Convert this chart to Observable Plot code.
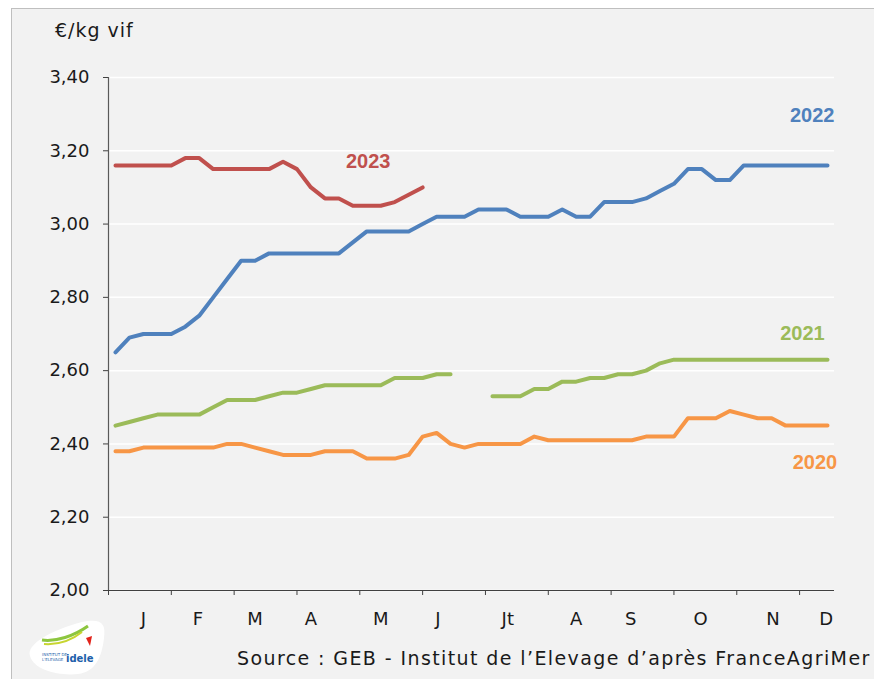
<!DOCTYPE html>
<html>
<head>
<meta charset="utf-8">
<script src="https://cdn.jsdelivr.net/npm/d3@7"></script>
<script src="https://cdn.jsdelivr.net/npm/@observablehq/plot@0.6"></script>
<style>
  body { margin: 0; background: #fff; }
  #wrap { position: relative; width: 874px; height: 679px; overflow: hidden; font-family: "DejaVu Sans", sans-serif; color: #1a1a1a; }
  #panel { position: absolute; left: 11px; top: 8px; width: 900px; height: 700px; background: #F2F2F2; border-top: 1px solid #BFBFBF; border-left: 1px solid #BFBFBF; }
  #chart { position: absolute; left: 0; top: 0; }
  #unit { position: absolute; left: 55px; top: 19px; font-size: 19px; letter-spacing: 1px; }
  #source { position: absolute; left: 237px; top: 647px; font-size: 19px; letter-spacing: 1.4px; white-space: nowrap; }
  #logo { position: absolute; left: 22px; top: 616px; }
</style>
</head>
<body>
<div id="wrap">
  <div id="panel"></div>
  <div id="logo">
    <svg width="86" height="60" viewBox="0 0 86 60">
      <path d="M8 40 C 4 28, 30 14, 60 6 C 80 2, 84 8, 82 22 C 80 40, 74 56, 56 58 C 36 60, 12 54, 8 40 Z" fill="#fff"/>
      <path d="M20 24 C 34 26, 52 20, 66 10" stroke="#8DC63F" stroke-width="3" fill="none"/>
      <path d="M22 28 C 36 29, 50 24, 60 16" stroke="#C7D530" stroke-width="2" fill="none"/>
      <path d="M64 22 L70 20 L68 30 Z" fill="#E2231A"/>
      <text x="20" y="40" font-size="4" fill="#1E5FAA" font-family="DejaVu Sans">INSTITUT DE</text>
      <text x="20" y="45" font-size="4" fill="#1E5FAA" font-family="DejaVu Sans">L'ELEVAGE</text>
      <text x="44" y="46" font-size="10" font-weight="bold" fill="#1E5FAA" font-family="DejaVu Sans">idele</text>
    </svg>
  </div>
  <div id="chart"></div>
  <div id="unit">€/kg vif</div>
  <div id="source">Source : GEB - Institut de l’Elevage d’après FranceAgriMer</div>
</div>
<script>
// ---- Data (weekly prices, €/kg vif) ----
const seriesNames = ["2020", "2021", "2022", "2023"];
const seriesColors = ["#F79646", "#9BBB59", "#4F81BD", "#C0504D"];

const v2020 = [2.38,2.38,2.39,2.39,2.39,2.39,2.39,2.39,2.40,2.40,
               2.39,2.38,2.37,2.37,2.37,2.38,2.38,2.38,2.36,2.36,
               2.36,2.37,2.42,2.43,2.40,2.39,2.40,2.40,2.40,2.40,
               2.42,2.41,2.41,2.41,2.41,2.41,2.41,2.41,2.42,2.42,
               2.42,2.47,2.47,2.47,2.49,2.48,2.47,2.47,2.45,2.45,
               2.45,2.45];
const v2021 = [2.45,2.46,2.47,2.48,2.48,2.48,2.48,2.50,2.52,2.52,
               2.52,2.53,2.54,2.54,2.55,2.56,2.56,2.56,2.56,2.56,
               2.58,2.58,2.58,2.59,2.59,null,null,2.53,2.53,2.53,
               2.55,2.55,2.57,2.57,2.58,2.58,2.59,2.59,2.60,2.62,
               2.63,2.63,2.63,2.63,2.63,2.63,2.63,2.63,2.63,2.63,
               2.63,2.63];
const v2022 = [2.65,2.69,2.70,2.70,2.70,2.72,2.75,2.80,2.85,2.90,
               2.90,2.92,2.92,2.92,2.92,2.92,2.92,2.95,2.98,2.98,
               2.98,2.98,3.00,3.02,3.02,3.02,3.04,3.04,3.04,3.02,
               3.02,3.02,3.04,3.02,3.02,3.06,3.06,3.06,3.07,3.09,
               3.11,3.15,3.15,3.12,3.12,3.16,3.16,3.16,3.16,3.16,
               3.16,3.16];
const v2023 = [3.16,3.16,3.16,3.16,3.16,3.18,3.18,3.15,3.15,3.15,
               3.15,3.15,3.17,3.15,3.10,3.07,3.07,3.05,3.05,3.05,
               3.06,3.08,3.10];

// Axis ticks
const yTicks = [2.00, 2.20, 2.40, 2.60, 2.80, 3.00, 3.20, 3.40];
const xTickWeeks = [0.5, 5, 9.5, 14, 18.5, 23, 27.5, 32, 36.5, 41, 45.5, 50];
const monthLabels = ["J", "F", "M", "A", "M", "J", "Jt", "A", "S", "O", "N", "D"];
const monthLabelWeeks = [3.0, 6.9, 11.0, 15.0, 20.0, 24.1, 29.1, 34.0, 37.9, 42.9, 48.1, 51.9];

// Series label annotations (week, value)
const labelNames = ["2020", "2021", "2022", "2023"];
const labelWeeks = [51.1, 50.2, 50.9, 19.1];
const labelValues = [2.35, 2.70, 3.295, 3.17];

// ---- Build tables ----
const seriesValues = [v2020, v2021, v2022, v2023];
const rows = [];
seriesNames.forEach((name, s) => {
  seriesValues[s].forEach((v, i) => rows.push({serie: name, week: i + 1, value: v}));
});
const labels = labelNames.map((n, i) => ({serie: n, week: labelWeeks[i], value: labelValues[i]}));
const monthByWeek = new Map(monthLabelWeeks.map((w, i) => [w, monthLabels[i]]));
const fmt = d => d.toFixed(2).replace(".", ",");

const chart = Plot.plot({
  width: 874,
  height: 679,
  marginLeft: 108,
  marginRight: 40,
  marginTop: 77,
  marginBottom: 89,
  style: {background: "transparent", fontFamily: "DejaVu Sans, sans-serif", fontSize: "18px", color: "#1a1a1a", overflow: "visible"},
  x: {domain: [0.5, 52.5]},
  y: {domain: [2.0, 3.4]},
  color: {domain: seriesNames, range: seriesColors},
  marks: [
    Plot.gridY(yTicks, {stroke: "#ffffff", strokeOpacity: 1, strokeWidth: 1.5}),
    Plot.axisY({ticks: yTicks, tickFormat: fmt, tickSize: 5, tickPadding: 14, label: null, stroke: "#404040", fontSize: 18}),
    Plot.axisX({ticks: xTickWeeks, tickFormat: () => "", tickSize: 5, label: null, stroke: "#404040"}),
    Plot.axisX({ticks: monthLabelWeeks, tickFormat: d => monthByWeek.get(d), tickSize: 0, tickPadding: 22, label: null, fontSize: 18}),
    Plot.ruleX([0.5], {y1: 2.0, y2: 3.4, stroke: "#595959", strokeWidth: 1.2}),
    Plot.ruleY([2.0], {x1: 0.5, x2: 52.5, stroke: "#404040", strokeWidth: 1.2}),
    Plot.line(rows, {x: "week", y: "value", z: "serie", stroke: "serie", strokeWidth: 4, strokeLinejoin: "round", strokeLinecap: "round"}),
    Plot.text(labels, {x: "week", y: "value", text: "serie", fill: "serie", fontWeight: "bold", fontSize: 20, fontFamily: "Liberation Sans, Arial, sans-serif"})
  ]
});
document.getElementById("chart").appendChild(chart);
</script>
</body>
</html>
